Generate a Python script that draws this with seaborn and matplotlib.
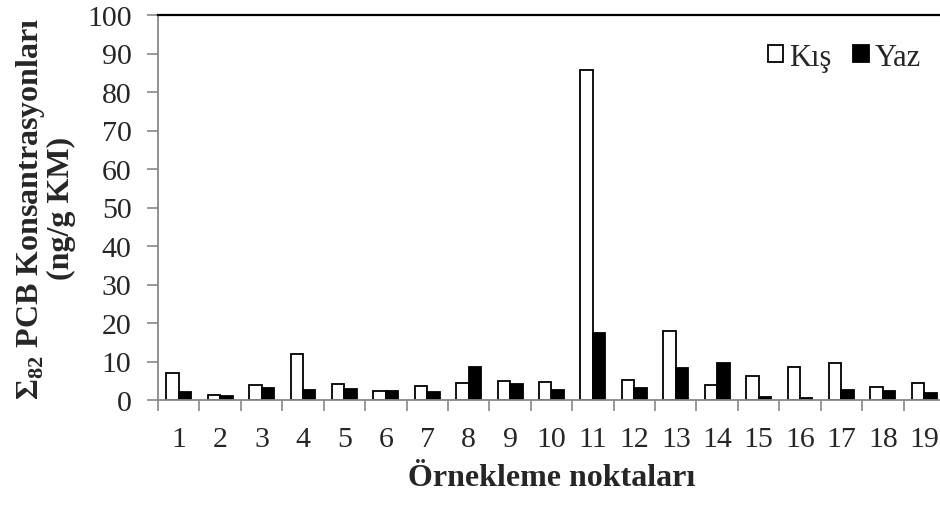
import numpy as np
import pandas as pd
import matplotlib
matplotlib.use("Agg")
import matplotlib.pyplot as plt
import seaborn as sns
from matplotlib.ticker import FixedLocator

STATIONS = [str(i) for i in range(1, 20)]
KIS = [7.1, 1.2, 3.8, 12.0, 4.1, 2.4, 3.6, 4.4, 5.0, 4.6,
       85.7, 5.1, 17.8, 3.9, 6.3, 8.6, 9.6, 3.4, 4.3]
YAZ = [2.0, 1.0, 3.1, 2.6, 2.9, 2.4, 2.2, 8.7, 4.1, 2.6,
       17.5, 3.0, 8.3, 9.5, 0.7, 0.6, 2.7, 2.4, 1.8]
SEASONS = ['Kış', 'Yaz']
Y_TICKS = list(range(0, 101, 10))

df = pd.DataFrame({
    'station': STATIONS * 2,
    'season': [SEASONS[0]] * len(STATIONS) + [SEASONS[1]] * len(STATIONS),
    'value': KIS + YAZ,
})

sns.set_style('white')
plt.rcParams['font.family'] = ['Liberation Serif', 'DejaVu Serif']
plt.rcParams['mathtext.fontset'] = 'custom'
plt.rcParams['mathtext.rm'] = 'Liberation Serif'
plt.rcParams['mathtext.bf'] = 'Liberation Serif:bold'

TICK_FS = 21.5
LABEL_FS = 23

fig = plt.figure(figsize=(9.4, 5.06), dpi=100)
ax = fig.add_axes([158 / 940, 1 - 401 / 506, 787 / 940, 385 / 506])

sns.barplot(data=df, x='station', y='value', hue='season', order=STATIONS,
            hue_order=SEASONS, palette={'Kış': 'white', 'Yaz': 'black'},
            edgecolor='black', linewidth=1.3, width=0.6, ax=ax,
            errorbar=None, saturation=1)

ax.set_ylim(0, 100)
ax.set_xlim(-0.5, len(STATIONS) - 0.5)
ax.set_yticks(Y_TICKS)
ax.tick_params(axis='y', labelsize=TICK_FS, length=8, width=1.2, color='#888888',
               direction='out', pad=11, left=True)
ax.tick_params(axis='x', which='major', labelsize=TICK_FS, length=0, pad=19)
ax.xaxis.set_minor_locator(FixedLocator(np.arange(-0.5, len(STATIONS), 1)))
ax.tick_params(axis='x', which='minor', length=8, width=1.2, color='#888888',
               direction='out', bottom=True)

for side in ['left', 'bottom']:
    ax.spines[side].set_color('#888888')
    ax.spines[side].set_linewidth(1.3)
ax.spines['top'].set_color('black')
ax.spines['top'].set_linewidth(1.6)
ax.spines['right'].set_visible(False)

ax.set_xlabel('Örnekleme noktaları', fontsize=LABEL_FS, fontweight='bold', labelpad=8)
ax.set_ylabel('Σ$_{\\mathbf{82}}$ PCB Konsantrasyonları\n(ng/g KM)',
              fontsize=LABEL_FS, fontweight='bold', labelpad=8, linespacing=1.0)

leg = ax.legend(loc='upper right', bbox_to_anchor=(0.985, 0.96), ncol=2,
                frameon=False, fontsize=22, handlelength=0.5, handleheight=0.5,
                handletextpad=0.2, columnspacing=0.7, borderaxespad=0)

fig.savefig('out.png', dpi=100)
